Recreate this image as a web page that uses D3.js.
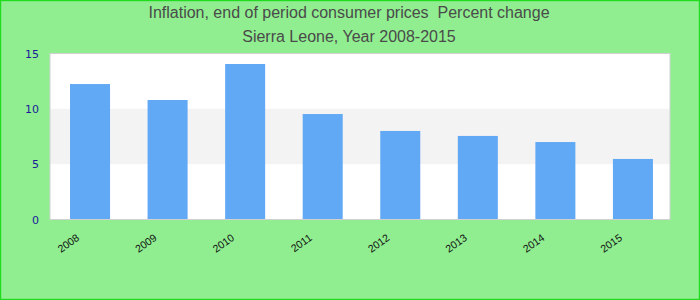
<!DOCTYPE html>
<html>
<head>
<meta charset="utf-8">
<script src="https://cdn.jsdelivr.net/npm/d3@7"></script>
<style>
  html, body { margin: 0; padding: 0; background: #90ee90; }
  svg { display: block; }
</style>
</head>
<body>
<div id="chart"></div>
<script>
// data
const years = ['2008', '2009', '2010', '2011', '2012', '2013', '2014', '2015'];
const inflation = [12.24, 10.8, 14.05, 9.53, 8.0, 7.55, 7.0, 5.47];
const yTicks = [0, 5, 10, 15];
const bands = [[5, 10]];
const titleLines = ['Inflation, end of period consumer prices  Percent change', 'Sierra Leone, Year 2008-2015'];

const W = 700, H = 300;
const plot = { left: 50, right: 670, top: 53.5, bottom: 219.5 };

const svg = d3.select('#chart').append('svg')
    .attr('width', W)
    .attr('height', H);

svg.append('rect')
    .attr('x', 0.5).attr('y', 0.5)
    .attr('width', W - 1).attr('height', H - 1)
    .attr('fill', '#90ee90')
    .attr('stroke', '#1fdc1f')
    .attr('stroke-width', 1.4);

// titles
svg.append('g').selectAll('text')
    .data(titleLines)
    .enter()
    .append('text')
    .attr('x', W / 2 - 1)
    .attr('y', (d, i) => 18 + i * 23.5)
    .attr('text-anchor', 'middle')
    .attr('font-family', '"Liberation Sans", Arial, sans-serif')
    .attr('font-size', '16px')
    .attr('fill', '#4a4a4a')
    .style('white-space', 'pre')
    .text(d => d);

const x = d3.scaleBand()
    .domain(years)
    .range([plot.left, plot.right])
    .paddingInner(0.484)
    .paddingOuter(0.239)
    .align(0.54);

const y = d3.scaleLinear()
    .domain([0, 15])
    .range([plot.bottom, plot.top]);

// plot background
svg.append('rect')
    .attr('x', plot.left).attr('y', plot.top)
    .attr('width', plot.right - plot.left)
    .attr('height', plot.bottom - plot.top)
    .attr('fill', '#fff');

svg.append('g').selectAll('rect')
    .data(bands)
    .enter()
    .append('rect')
    .attr('x', plot.left)
    .attr('y', d => y(d[1]))
    .attr('width', plot.right - plot.left)
    .attr('height', d => y(d[0]) - y(d[1]))
    .attr('fill', '#f3f3f3');

// bars
svg.append('g').selectAll('rect')
    .data(years)
    .enter()
    .append('rect')
    .attr('x', d => x(d))
    .attr('y', (d, i) => y(inflation[i]))
    .attr('width', x.bandwidth())
    .attr('height', (d, i) => y(0) - y(inflation[i]))
    .attr('fill', '#62a9f5');

svg.append('rect')
    .attr('x', plot.left).attr('y', plot.top)
    .attr('width', plot.right - plot.left)
    .attr('height', plot.bottom - plot.top)
    .attr('fill', 'none')
    .attr('stroke', '#d0d0d0')
    .attr('stroke-width', 1);

// y axis
const yAxis = svg.append('g')
    .attr('transform', `translate(${plot.left},0)`)
    .call(d3.axisLeft(y).tickValues(yTicks).tickSize(0).tickPadding(11));
yAxis.select('.domain').remove();
yAxis.selectAll('text')
    .attr('font-family', '"DejaVu Sans", sans-serif')
    .attr('font-size', '11px')
    .attr('fill', '#1a1a9a');

// x axis
const xAxis = svg.append('g')
    .attr('transform', `translate(0,${plot.bottom})`)
    .call(d3.axisBottom(x).tickSize(0).tickPadding(0));
xAxis.select('.domain').remove();
xAxis.selectAll('text')
    .attr('font-family', '"Liberation Sans", Arial, sans-serif')
    .attr('font-size', '10.5px')
    .attr('fill', '#111')
    .attr('text-anchor', 'end')
    .attr('y', 0)
    .attr('dy', 0)
    .attr('transform', 'translate(-10,20) rotate(-35)');
</script>
</body>
</html>
